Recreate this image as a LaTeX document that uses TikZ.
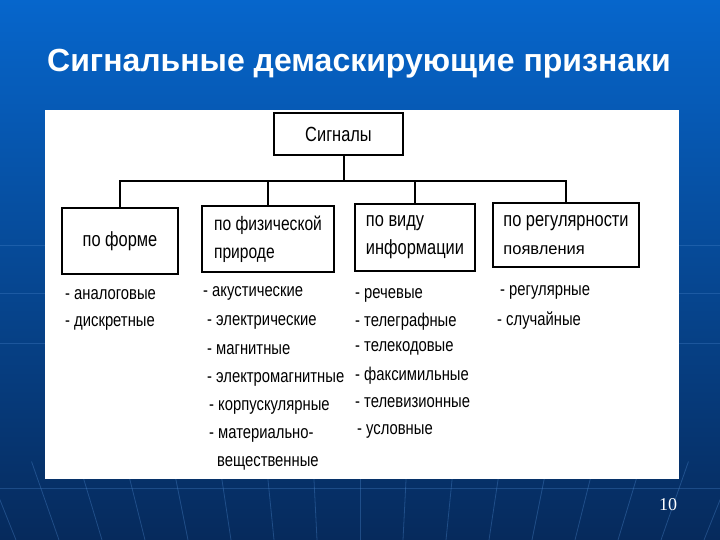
\documentclass[tikz,border=0pt]{standalone}
\usepackage{fontspec}
\setmainfont{Liberation Sans}
\newfontfamily\condfont[FakeStretch=0.8]{Liberation Sans}
\newfontfamily\numfont{Liberation Serif}
\usetikzlibrary{positioning,calc}
\definecolor{bgtop}{RGB}{6,102,204}
\definecolor{bgmid}{RGB}{10,76,154}
\definecolor{bgbot}{RGB}{6,42,92}
\definecolor{raycol}{RGB}{80,140,210}

\begin{document}
\begin{tikzpicture}[x=1pt,y=-1pt,
  box/.style={draw=black,line width=1.8pt,fill=white,align=left,inner sep=0pt,
    font=\condfont\fontsize{19.5}{28}\selectfont},
  item/.style={anchor=west,inner sep=0pt,font=\condfont\fontsize{18.5}{28}\selectfont},
  link/.style={line width=1.8pt},
  title/.style={font=\bfseries\fontsize{32}{36}\selectfont}]
  \useasboundingbox (0,0) rectangle (720,540);
  % background
  \shade[top color=bgtop,middle color=bgmid,bottom color=bgbot] (0,0) rectangle (720,540);
  \foreach \k in {-9,...,9}
    \draw[raycol,opacity=0.35,line width=0.8pt] ($(360,1400)!0.935!(360+\k*46,480)$) -- ($(360,1400)!1.02!(360+\k*46,480)$);
  \foreach \y in {245,293,343,488}
    \draw[raycol,opacity=0.3,line width=0.8pt] (0,\y) -- (720,\y);
  % title
  \node[title,text=white] (title) at (359,64) {Сигнальные демаскирующие признаки};
  % panel
  \fill[white] (45,110) rectangle (679,479);
  % tree
  \node[box,minimum width=129pt,minimum height=42pt,align=center,font=\condfont\fontsize{20.5}{28}\selectfont] (sig) at (338.5,134) {Сигналы};
  \node[box,minimum width=116pt,minimum height=66pt,align=center,font=\condfont\fontsize{20.5}{28}\selectfont] (form) at (120,241) {по форме};
  \node[box,minimum width=132pt,minimum height=66pt] (phys) at (268,239) {по физической\\природе};
  \node[box,minimum width=120pt,minimum height=67pt,font=\condfont\fontsize{20.5}{28}\selectfont] (info) at (415,237.5) {по виду\\информации};
  \node[box,minimum width=146pt,minimum height=64pt,font=\condfont\fontsize{20.5}{28}\selectfont] (reg) at (566,235) {по регулярности\\{\rmfamily\fontsize{16.5}{28}\selectfont появления}};
  \coordinate (bar) at (344,181);
  \draw[link] (sig.south -| bar) -- (bar);
  \draw[link] (form.north) -- (form.north |- bar) -- (reg.north |- bar) -- (reg.north);
  \draw[link] (phys.north) -- (phys.north |- bar);
  \draw[link] (info.north) -- (info.north |- bar);
  % lists
  \foreach \x/\y/\t [count=\i] in {65/295/{- аналоговые},65/323/{- дискретные}}
    \node[item] (a\i) at (\x,\y) {\t};
  \foreach \x/\y/\t [count=\i] in {203/293/{- акустические},207/322/{- электрические},
      207/350/{- магнитные},207/379/{- электромагнитные},209/407/{- корпускулярные},
      209/435/{- материально-},217/463/{вещественные}}
    \node[item] (b\i) at (\x,\y) {\t};
  \foreach \x/\y/\t [count=\i] in {355/295/{- речевые},355/322/{- телеграфные},
      355/348/{- телекодовые},355/376/{- факсимильные},355/403/{- телевизионные},
      357/431/{- условные}}
    \node[item] (c\i) at (\x,\y) {\t};
  \foreach \x/\y/\t [count=\i] in {500/292/{- регулярные},497/321/{- случайные}}
    \node[item] (d\i) at (\x,\y) {\t};
  % slide number
  \node[text=white,font=\numfont\fontsize{18}{20}\selectfont] (num) at (668,505) {10};
\end{tikzpicture}
\end{document}
